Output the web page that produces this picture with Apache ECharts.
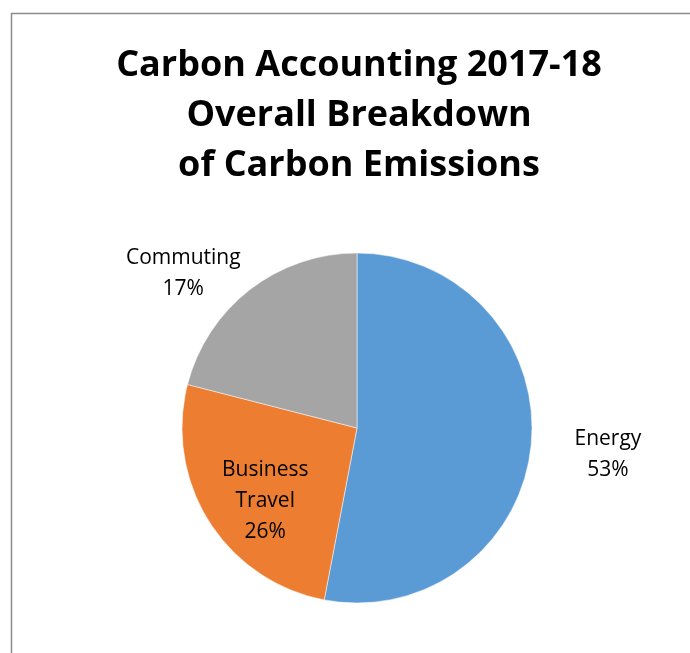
<!DOCTYPE html>
<html>
<head>
<meta charset="utf-8">
<script src="https://cdn.jsdelivr.net/npm/echarts@6/dist/echarts.min.js"></script>
<style>
html,body{margin:0;padding:0;background:#fff;}
#chart{width:690px;height:653px;}
</style>
</head>
<body>
<div id="chart"></div>
<script>
const titleText = 'Carbon Accounting 2017-18\nOverall Breakdown\nof Carbon Emissions';
const categories = ['Energy', 'Business Travel', 'Commuting'];
const values = [53, 26, 21];
const percentLabels = ['53%', '26%', '17%'];
const labelNames = ['Energy', 'Business\nTravel', 'Commuting'];
const colors = ['#5b9bd5', '#ed7d31', '#a5a5a5'];

const CX = 357, CY = 428, R = 175;
const labelRadius = [1.44, 0.66, 1.34];
const labelAngleShift = [0, -5, -10];
const labelDy = 3;

const total = values.reduce((a, b) => a + b, 0);
function labelPos(i) {
  let before = 0;
  for (let k = 0; k < i; k++) before += values[k];
  const mid = (before + values[i] / 2) / total * 360 + labelAngleShift[i];
  const a = mid * Math.PI / 180;
  const d = R * labelRadius[i];
  return { x: CX + d * Math.sin(a), y: CY - d * Math.cos(a) + labelDy };
}

const chart = echarts.init(document.getElementById('chart'));
chart.setOption({
  animation: false,
  backgroundColor: '#fff',
  title: {
    text: titleText,
    left: CX - 3, top: 36,
    textAlign: 'center',
    textStyle: { fontFamily: 'Open Sans', fontWeight: 'bold', fontSize: 36, lineHeight: 50, color: '#000' }
  },
  graphic: [{
    type: 'rect', shape: { x: 11.5, y: 13.5, width: 700, height: 700 },
    style: { fill: 'none', stroke: '#8c8c8c', lineWidth: 1.5 }, silent: true, z: -1
  }],
  series: [{
    type: 'pie',
    center: [CX, CY],
    radius: R,
    startAngle: 90,
    clockwise: true,
    avoidLabelOverlap: false,
    itemStyle: { borderColor: '#fff', borderWidth: 0.5 },
    label: {
      show: true,
      position: 'outside',
      fontFamily: 'Open Sans',
      fontSize: 21,
      lineHeight: 31,
      color: '#000',
      align: 'center',
      formatter: p => labelNames[p.dataIndex] + '\n' + percentLabels[p.dataIndex]
    },
    labelLine: { show: false },
    labelLayout: p => {
      const pos = labelPos(p.dataIndex);
      return { x: pos.x, y: pos.y, align: 'center', verticalAlign: 'middle' };
    },
    data: categories.map((c, i) => ({ name: c, value: values[i], itemStyle: { color: colors[i] } }))
  }]
});
</script>
</body>
</html>
